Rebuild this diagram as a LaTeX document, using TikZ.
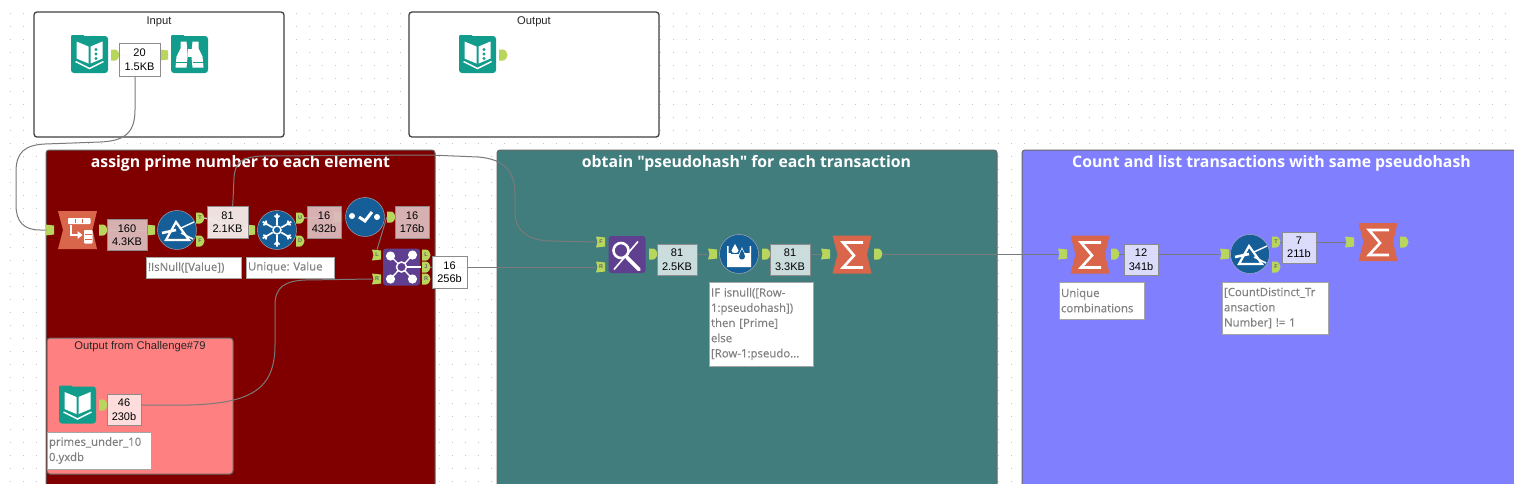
\documentclass[tikz,border=0pt]{standalone}
\usepackage{fontspec}
\setmainfont{Liberation Sans}
\newfontfamily\labelfont{Open Sans}
\newfontfamily\memofont[FakeBold=0.35]{Open Sans}
\frenchspacing
\definecolor{portgreen}{HTML}{B9D65C}
\definecolor{toolteal}{HTML}{119C8B}
\definecolor{toolblue}{HTML}{155E98}
\definecolor{toolpurple}{HTML}{5F3F8F}
\definecolor{toolorange}{HTML}{D9654A}
\definecolor{redbox}{HTML}{800000}
\definecolor{pinkbox}{HTML}{FF8080}
\definecolor{tealbox}{HTML}{417D7D}
\definecolor{bluebox}{HTML}{8080FF}
\definecolor{wire}{HTML}{7A7A7A}
\definecolor{badgered}{HTML}{DCBBBB}
\definecolor{badgepale}{HTML}{F6EDED}
\definecolor{badgepink}{HTML}{FFE2E2}
\definecolor{badgeteal}{HTML}{D2E2E2}
\definecolor{badgeblue}{HTML}{E0E0FB}
\tikzset{
  whitebox/.style={draw=black!75,line width=1.3pt,fill=white,rounded corners=3pt},
  colorbox/.style={draw=black!60,line width=1pt,rounded corners=3pt},
  boxtitle/.style={font=\labelfont\bfseries\fontsize{15.8}{18}\selectfont,text=white,inner sep=0pt},
  smalltitle/.style={font=\fontsize{11.2}{13}\selectfont,text=black!85,inner sep=0pt},
  badge/.style={draw=black!45,line width=1pt,inner sep=0pt,align=center,text=black,
    font=\fontsize{11}{13.5}\selectfont,fill opacity=.95,text opacity=1},
  memo/.style={draw=black!35,line width=1pt,fill=white,inner ysep=1pt,inner xsep=2pt,align=left,
    text=black!50,font=\memofont\fontsize{11.4}{15.2}\selectfont},
  wireline/.style={draw=wire,line width=1pt},
  inportn/.style={minimum width=9pt,minimum height=10pt,inner sep=0pt,text=black!60,font=\fontsize{5.5}{5.5}\selectfont\bfseries},
  outportn/.style={minimum width=8pt,minimum height=10pt,inner sep=0pt,text=black!60,font=\fontsize{5.5}{5.5}\selectfont\bfseries},
  circtool/.style={circle,fill=toolblue,draw=black!30,line width=.4pt,minimum size=39pt,inner sep=0pt},
  squaretool/.style={rectangle,rounded corners=3pt,minimum size=37pt,inner sep=0pt},
  freetool/.style={rectangle,minimum size=38pt,inner sep=0pt},
  glyph/.style={draw=white,line width=2.2pt},
  bookglyph/.pic={
    \fill[toolteal,rounded corners=1pt] (-18.5,-19.5) rectangle (-5,-14);
    \fill[white] (-13,-13) -- (-1,-8) -- (-1,9) -- (-13,4) -- cycle;
    \fill[white] (13,-13) -- (1,-8) -- (1,9) -- (13,4) -- cycle;
    \draw[white,line width=1.4pt] (-14,7) -- (0,14) -- (14,7);
  },
  dotsglyph/.pic={
    \foreach \yy in {-5,-0.5,4} \fill[toolteal] (6.5,\yy) circle (1.6pt);
  },
  binocglyph/.pic={
    \fill[toolteal,rounded corners=1pt] (-18.5,-19.5) rectangle (-5,-14);
    \fill[white] (-14,13) -- (-13,2) -- (-9,-6) -- (-9,-13) -- (-3,-13) -- (-2,-2) -- (-2,3) -- (-3,13) -- cycle;
    \fill[white] (14,13) -- (13,2) -- (9,-6) -- (9,-13) -- (3,-13) -- (2,-2) -- (2,3) -- (3,13) -- cycle;
    \fill[white] (-2,-6) rectangle (2,2);
    \draw[toolteal,line width=1pt] (-14,8) -- (-3,8) (3,8) -- (14,8);
  },
  bowshape/.pic={
    \fill[toolorange] (-19.5,-19) -- (19.5,-19) -- (15,0) -- (19.5,19) -- (-19.5,19) -- (-14.5,0) -- cycle;
  },
  sumglyph/.pic={
    \pic {bowshape};
    \draw[white,line width=2.6pt,miter limit=10] (11,-12) -- (-9,-12) -- (2,1) -- (-9,13) -- (11,13);
  },
  transposeglyph/.pic={
    \pic {bowshape};
    \fill[white,rounded corners=.8pt] (-9.5,-12) rectangle (13,-6);
    \foreach \xx in {-2.2,5.2} \draw[toolorange,line width=.8pt] (\xx,-11) -- (\xx,-7);
    \draw[white,line width=2pt] (-7,-5) -- (-7,5) -- (1,5);
    \fill[white] (0,1) -- (5,5) -- (0,9) -- cycle;
    \fill[white,rounded corners=.8pt] (6.5,0) rectangle (15,13.5);
    \foreach \yy in {4.5,9} \draw[toolorange,line width=.8pt] (7.5,\yy) -- (14,\yy);
  },
  filterglyph/.pic={
    \draw[glyph,line join=miter] (-1,-8) -- (-11,10) -- (12,10) -- cycle;
    \draw[white,line width=2.6pt] (-15,3) -- (-1,0);
    \draw[white,line width=1.4pt] (4,-2) -- (17,-8) (4,3) -- (16,9);
  },
  uniqueglyph/.pic={
    \foreach \aa in {30,90,150,210,270,330} {
      \draw[white,line width=1.7pt,rotate=\aa] (5,0) -- (16.5,0) (12,0) -- (14.5,2.5) (12,0) -- (14.5,-2.5);
    }
    \draw[white,line width=1.5pt] (0,0) circle (4pt);
  },
  selectglyph/.pic={
    \fill[white] (-13,-1) circle (3pt) (12,0) circle (3pt);
    \draw[white,line width=3pt] (-6,0) -- (0,4) -- (7,-5);
  },
  joinglyph/.pic={
    \foreach \xx/\yy in {-11/-11,11/-12,-11/12,11/12} {
      \draw[white,line width=1.4pt] (0,0) -- (\xx,\yy);
      \fill[white] (\xx,\yy) circle (4.6pt);
    }
    \draw[white,line width=1.4pt] (0,0) -- (19,0);
    \filldraw[fill=toolpurple,draw=white,line width=1.5pt] (0,0) circle (5pt);
  },
  findglyph/.pic={
    \draw[white,line width=2.6pt] (-6,-4) circle (7.5pt);
    \draw[white,line width=3.6pt,line cap=round] (0,3) -- (12,15);
    \draw[white,line width=1.6pt] (11,-13) -- (-13,15);
  },
  rowglyph/.pic={
    \fill[white] (-12,-8) -- (-10.5,-8) -- (-10.5,-1) -- (10.5,-1) -- (10.5,-8) -- (12,-8) -- (12,13) -- (-12,13) -- cycle;
    \fill[white] (-4,-10) .. controls (-5,-7) and (-7.5,-5) .. (-7.5,-3.5) .. controls (-7.5,0) and (-0.5,0) .. (-0.5,-3.5) .. controls (-0.5,-5) and (-3,-7) .. (-4,-10) -- cycle;
    \fill[toolblue] (-8,-1) rectangle (0,0);
    \fill[white] (3,-7) .. controls (2,-3) and (-1,0) .. (-1,3) .. controls (-1,8) and (7,8) .. (7,3) .. controls (7,0) and (4,-3) .. (3,-7) -- cycle;
    \fill[toolblue] (3,-5) .. controls (2,-2) and (0,0) .. (0,2.5) .. controls (0,6.5) and (6,6.5) .. (6,2.5) .. controls (6,0) and (4,-2) .. (3,-5) -- cycle;
  },
}
\newcommand{\inportat}[4]{%
  \fill[portgreen] ([shift={(-5,-5.5)}]#2) -- ([shift={(4,-4.5)}]#2) -- ([shift={(4,4.5)}]#2) -- ([shift={(-5,5.5)}]#2) -- ([shift={(-3.5,0)}]#2) -- cycle;
  \node[inportn] (#1) at (#2) {#3};}
\newcommand{\outportat}[4]{%
  \fill[portgreen] ([shift={(-4,-5.5)}]#2) -- ([shift={(0,-5.5)}]#2) .. controls ([shift={(2.5,-5.5)}]#2) and ([shift={(4.5,-2)}]#2) .. ([shift={(4.5,0)}]#2) .. controls ([shift={(4.5,2)}]#2) and ([shift={(2.5,5.5)}]#2) .. ([shift={(0,5.5)}]#2) -- ([shift={(-4,5.5)}]#2) -- cycle;
  \node[outportn] (#1) at (#2) {#3};}
\begin{document}
\begin{tikzpicture}[x=1pt,y=-1pt]
\clip (0,0) rectangle (1514,483);
\fill[white] (0,0) rectangle (1514,483);
% grid dots
\foreach \i in {0,...,116} \foreach \j in {1,...,37}
  \fill[black!22] (10+13*\i,13*\j) rectangle +(1,1);
% containers
\filldraw[whitebox] (34,12) rectangle (284,137);
\node[smalltitle] (tinput) at (159,22) {Input};
\filldraw[whitebox] (409,12) rectangle (659,137);
\node[smalltitle] (toutput) at (534,22) {Output};
\filldraw[colorbox,fill=redbox] (46,150) rectangle (435,495);
\node[boxtitle] (tred) at (240.5,163) {assign prime number to each element};
\filldraw[colorbox,fill=tealbox] (497,150) rectangle (997,495);
\node[boxtitle] (tteal) at (746.5,163) {obtain "pseudohash" for each transaction};
\filldraw[colorbox,fill=bluebox] (1022,150) rectangle (1530,495);
\node[boxtitle] (tblue) at (1271.5,163) {Count and list transactions with same pseudohash};
\filldraw[colorbox,fill=pinkbox] (47,338) rectangle (233,474);
\node[smalltitle] (tpink) at (140,347) {Output from Challenge\#79};
% tools
\node[squaretool,fill=toolteal] (bookA) at (89.5,54.5) {};
\pic at (bookA.center) {bookglyph}; \pic at (bookA.center) {dotsglyph};
\node[squaretool,fill=toolteal] (binoc) at (189.5,54.5) {};
\pic at (binoc.center) {binocglyph};
\node[squaretool,fill=toolteal] (bookB) at (477.5,54.5) {};
\pic at (bookB.center) {bookglyph}; \pic at (bookB.center) {dotsglyph};
\node[freetool] (trans) at (77.5,230) {}; \pic at (trans.center) {transposeglyph};
\node[circtool] (filtA) at (177,230) {}; \pic at (filtA.center) {filterglyph};
\node[circtool] (uniq) at (277,230) {}; \pic at (uniq.center) {uniqueglyph};
\node[circtool] (sel) at (365,217) {}; \pic at (sel.center) {selectglyph};
\node[squaretool,fill=toolpurple] (join) at (401.5,267) {}; \pic at (join.center) {joinglyph};
\node[squaretool,fill=toolteal] (bookC) at (77.5,405) {}; \pic at (bookC.center) {bookglyph};
\node[squaretool,fill=toolpurple] (find) at (627,254.5) {}; \pic at (find.center) {findglyph};
\node[circtool] (row) at (739,254) {}; \pic at (row.center) {rowglyph};
\node[freetool] (sumA) at (852,254.5) {}; \pic at (sumA.center) {sumglyph};
\node[freetool] (sumB) at (1090,254.5) {}; \pic at (sumB.center) {sumglyph};
\node[circtool] (filtB) at (1250,254) {}; \pic at (filtB.center) {filterglyph};
\node[freetool] (sumC) at (1378,242) {}; \pic at (sumC.center) {sumglyph};
% ports
\outportat{bookAo}{115,55}{}{}
\inportat{binocI}{164,55}{}{}
\outportat{bookBo}{503,55}{}{}
\inportat{transI}{50,230}{}{}
\outportat{transO}{103,230}{}{}
\inportat{filtAI}{151,230}{}{}
\outportat{filtAT}{200,218}{T}{}
\outportat{filtAF}{200,241}{F}{}
\inportat{uniqI}{251,230}{}{}
\outportat{uniqU}{300,218}{U}{}
\outportat{uniqD}{300,241}{D}{}
\inportat{selI}{338,217}{}{}
\outportat{selO}{391,217}{}{}
\inportat{joinL}{377,255}{L}{}
\inportat{joinR}{377,279}{R}{}
\outportat{joinOL}{426,255}{L}{}
\outportat{joinOJ}{426,267}{J}{}
\outportat{joinOR}{426,279}{R}{}
\outportat{bookCo}{103,405}{}{}
\inportat{findF}{601,242}{F}{}
\inportat{findR}{601,267}{R}{}
\outportat{findO}{653,254}{}{}
\inportat{rowI}{713,254}{}{}
\outportat{rowO}{766,254}{}{}
\inportat{sumAI}{826,254}{}{}
\outportat{sumAO}{878,254}{}{}
\inportat{sumBI}{1063,254}{}{}
\outportat{sumBO}{1115,254}{}{}
\inportat{filtBI}{1225,254}{}{}
\outportat{filtBT}{1276,242}{T}{}
\outportat{filtBF}{1276,267}{F}{}
\inportat{sumCI}{1350,242}{}{}
\outportat{sumCO}{1404,242}{}{}
% connectors
\draw[wireline,draw=white] (bookAo.east) -- (binocI.west);
\draw[wireline] (bookAo.east) .. controls (128,55) and (135,58) .. (135,72)
  -- (135,110) .. controls (135,135) and (122,141) .. (100,142) -- (45,144)
  .. controls (25,145) and (16,152) .. (16,172) -- (16,205)
  .. controls (16,222) and (24,230) .. (40,230) -- (transI.west);
\draw[wireline,draw=white!70!wire] (transO.east) -- (filtAI.west);
\draw[wireline] (filtAT.east) .. controls (215,218) and (233,222) .. (233,200)
  -- (234,178) .. controls (235,162) and (242,157) .. (262,156)
  -- (430,155) -- (478,157) .. controls (505,159) and (515,172) .. (515,195)
  -- (515,212) .. controls (515,232) and (530,241) .. (552,241) -- (findF.west);
\draw[wireline,draw=white!70!wire] (filtAT.east) -- (uniqI.west);
\draw[wireline,draw=white!60!wire] (uniqU.east) -- (selI.west);
\draw[wireline] (selO.west) -- (joinL.north);
\draw[wireline] (bookCo.east) -- (190,405) .. controls (250,403) and (275,390) .. (275,345)
  -- (275,305) .. controls (275,287) and (285,281) .. (305,280) -- (joinR.west);
\draw[wireline] (joinOJ.east) -- (findR.west);
\draw[wireline] (findO.east) -- (rowI.west);
\draw[wireline] (rowO.east) -- (sumAI.west);
\draw[wireline] (sumAO.east) -- (sumBI.west);
\draw[wireline] (sumBO.east) -- (filtBI.west);
\draw[wireline] (filtBT.east) -- (sumCI.west);
% badges
\node[badge,fill=white,minimum width=41pt,minimum height=33pt] (b20) at (139.5,59.5) {20\\1.5KB};
\node[badge,fill=badgered,minimum width=40pt,minimum height=31pt] (b160) at (127,235) {160\\4.3KB};
\node[badge,fill=badgepale,minimum width=41pt,minimum height=32pt] (b81a) at (227.5,222) {81\\2.1KB};
\node[badge,fill=badgered,minimum width=34pt,minimum height=32pt] (b16a) at (324,222) {16\\432b};
\node[badge,fill=badgered,minimum width=34pt,minimum height=32pt] (b16b) at (412,222) {16\\176b};
\node[badge,fill=white,minimum width=35pt,minimum height=32pt] (b16c) at (449.5,272) {16\\256b};
\node[badge,fill=badgepink,minimum width=34pt,minimum height=31pt] (b46) at (124,409.5) {46\\230b};
\node[badge,fill=badgeteal,minimum width=40pt,minimum height=31pt] (b81b) at (677,259.5) {81\\2.5KB};
\node[badge,fill=badgeteal,minimum width=40pt,minimum height=31pt] (b81c) at (790,259.5) {81\\3.3KB};
\node[badge,fill=badgeblue,minimum width=34pt,minimum height=31pt] (b12) at (1141,259.5) {12\\341b};
\node[badge,fill=badgeblue,minimum width=34pt,minimum height=31pt] (b7) at (1299,247.5) {7\\211b};
% annotations
\node[memo,text width=91pt,minimum height=21pt] (m1) at (193.5,267.5) {!IsNull([Value])};
\node[memo,text width=84pt,minimum height=21pt] (m2) at (290,267.5) {Unique: Value};
\node[memo,text width=100pt,minimum height=37pt] (m3) at (99,450.5) {primes\_under\_10\\0.yxdb};
\node[memo,text width=100pt,minimum height=84pt] (m4) at (761,324) {IF isnull([Row-\\1:pseudohash])\\then [Prime]\\else\\{[}Row-1:pseudo...};
\node[memo,text width=81pt,minimum height=37pt] (m5) at (1101.5,300.5) {Unique\\combinations};
\node[memo,text width=102pt,minimum height=52pt] (m6) at (1275,308) {[CountDistinct\_Tr\\ansaction\\Number] != 1};
\end{tikzpicture}
\end{document}
